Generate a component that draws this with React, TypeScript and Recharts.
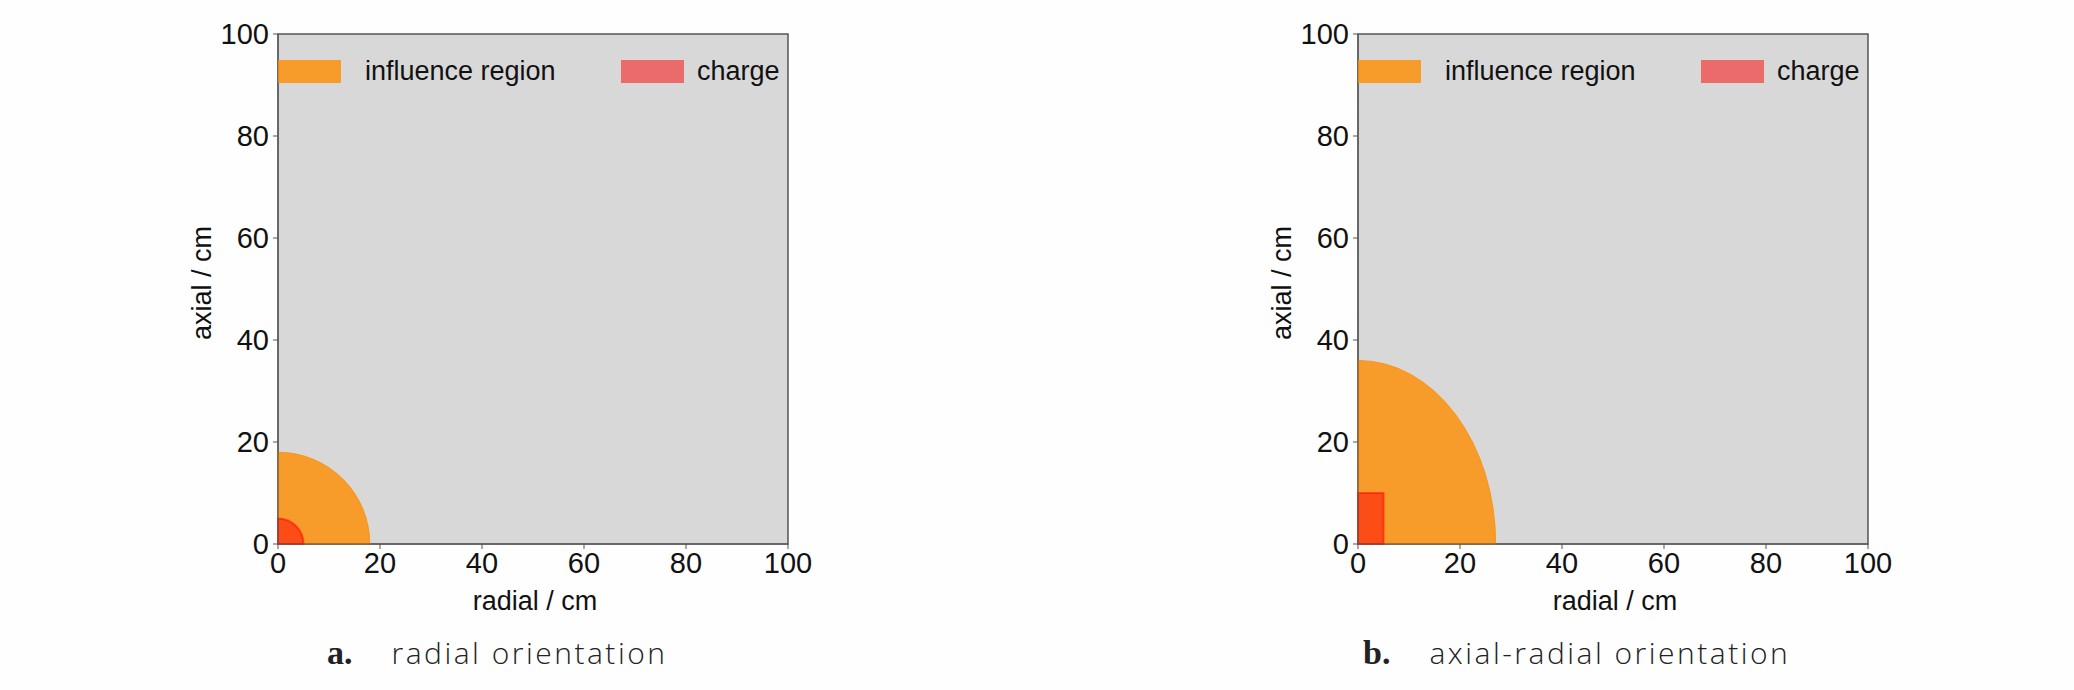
import React from 'react';
import { ComposedChart, XAxis, YAxis, ReferenceArea, Legend } from 'recharts';

// panel a: radial orientation, panel b: axial-radial orientation
const panelKeys = ['a', 'b'];
const captions = ['radial orientation', 'axial-radial orientation'];
const influenceRadial = [18, 27];
const influenceAxial = [18, 36];
const chargeRadial = [5, 5];
const chargeAxial = [5, 10];
const chargeShape = ['quarter', 'rect'];
const radialTicks = [0, 20, 40, 60, 80, 100];
const axialTicks = [0, 20, 40, 60, 80, 100];
const legendLabels = ['influence region', 'charge'];
const legendColors = ['#ff8c00', '#ff0000'];
const legendOpacity = [0.8, 0.5];

const FONT = '"Liberation Sans", Arial, sans-serif';
const AXIS = '#555';

// quarter ellipse anchored at the bottom-left corner of the area rect
const QuarterEllipse = (props: any) => {
  const { x, y, width, height, fill, fillOpacity, stroke, strokeOpacity, strokeWidth } = props;
  const d = `M${x},${y + height} L${x},${y} A${width},${height} 0 0 1 ${x + width},${y + height} Z`;
  return (
    <path
      d={d}
      fill={fill}
      fillOpacity={fillOpacity}
      stroke={stroke}
      strokeOpacity={strokeOpacity}
      strokeWidth={strokeWidth}
    />
  );
};

const LegendBox = () => (
  <div
    style={{
      display: 'flex',
      alignItems: 'center',
      fontFamily: FONT,
      fontSize: 27,
      lineHeight: '34px',
      color: '#111',
      width: 508,
      height: 36,
      overflow: 'hidden',
    }}
  >
    {legendLabels.map((label, i) => (
      <div
        key={label}
        style={{ display: 'flex', alignItems: 'center', flexShrink: 0, width: i === 0 ? 343 : 'auto' }}
      >
        <div
          style={{
            width: 61,
            height: 21,
            background: legendColors[i],
            opacity: legendOpacity[i],
            border: `1px solid ${legendColors[i]}`,
          }}
        />
        <span style={{ marginLeft: i === 0 ? 24 : 13, whiteSpace: 'nowrap' }}>{label}</span>
      </div>
    ))}
  </div>
);

function Panel({ idx, width }: { idx: number; width: number }) {
  return (
    <ComposedChart
      width={width}
      height={690}
      data={[]}
      margin={{ top: 34, right: width - 178 - 100 - 510, bottom: 56, left: 178 }}
    >
      <XAxis
        type="number"
        dataKey="r"
        domain={[0, 100]}
        ticks={radialTicks}
        allowDataOverflow
        height={90}
        stroke={AXIS}
        tickSize={5}
        tickMargin={3}
        tick={{ fontSize: 29, fontFamily: FONT, fill: '#111' }}
        label={(p: any) => {
          const vb = p.viewBox;
          return (
            <text x={vb.x + vb.width / 2 + 2} y={vb.y + 66} textAnchor="middle" fontSize={27} fontFamily={FONT} fill="#111">
              radial / cm
            </text>
          );
        }}
      />
      <YAxis
        type="number"
        dataKey="a"
        domain={[0, 100]}
        ticks={axialTicks}
        allowDataOverflow
        width={100}
        stroke={AXIS}
        tickSize={5}
        tickMargin={4}
        tick={{ fontSize: 29, fontFamily: FONT, fill: '#111' }}
        label={(p: any) => {
          const vb = p.viewBox;
          const cx = vb.x + 24;
          const cy = vb.y + vb.height / 2 - 6;
          return (
            <text
              x={cx}
              y={cy}
              transform={`rotate(-90 ${cx} ${cy})`}
              textAnchor="middle"
              dominantBaseline="central"
              fontSize={27}
              fontFamily={FONT}
              fill="#111"
            >
              axial / cm
            </text>
          );
        }}
      />
      <ReferenceArea x1={0} x2={100} y1={0} y2={100} fill="#d8d8d8" fillOpacity={1} stroke={AXIS} strokeWidth={1.5} />
      <ReferenceArea
        x1={0}
        x2={influenceRadial[idx]}
        y1={0}
        y2={influenceAxial[idx]}
        fill="#ff8c00"
        fillOpacity={0.8}
        stroke="#ff8c00"
        strokeOpacity={0.8}
        strokeWidth={1}
        shape={QuarterEllipse}
      />
      {chargeShape[idx] === 'quarter' ? (
        <ReferenceArea
          x1={0}
          x2={chargeRadial[idx]}
          y1={0}
          y2={chargeAxial[idx]}
          fill="#ff0000"
          fillOpacity={0.5}
          stroke="#ff0000"
          strokeOpacity={0.5}
          strokeWidth={2}
          shape={QuarterEllipse}
        />
      ) : (
        <ReferenceArea
          x1={0}
          x2={chargeRadial[idx]}
          y1={0}
          y2={chargeAxial[idx]}
          fill="#ff0000"
          fillOpacity={0.5}
          stroke="#ff0000"
          strokeOpacity={0.5}
          strokeWidth={2}
        />
      )}
      <Legend
        layout="horizontal"
        verticalAlign="middle"
        align="center"
        content={() => <LegendBox />}
        wrapperStyle={{ position: 'absolute', left: 278, top: 53, width: 508, height: 36 }}
      />
    </ComposedChart>
  );
}

const panelLeft = [0, 1080];
const panelWidth = [1000, 994];
const captionLeft = [327, 1363];

export default function App() {
  return (
    <div style={{ position: 'absolute', left: 0, top: 0, width: 2074, height: 690, background: '#fefefe', overflow: 'hidden' }}>
      {panelKeys.map((key, i) => (
        <div key={key} style={{ position: 'absolute', left: panelLeft[i], top: 0 }}>
          <Panel idx={i} width={panelWidth[i]} />
        </div>
      ))}
      {panelKeys.map((key, i) => (
        <div
          key={'cap' + key}
          style={{
            position: 'absolute',
            left: captionLeft[i],
            top: 636,
            lineHeight: '34px',
            whiteSpace: 'nowrap',
            color: '#222',
          }}
        >
          <span style={{ fontFamily: '"Liberation Serif", serif', fontWeight: 'bold', fontSize: 34 }}>{key}.</span>
          <span style={{ fontFamily: '"Open Sans", sans-serif', fontWeight: 300, fontSize: 30, letterSpacing: 2.5, marginLeft: 39 }}>
            {captions[i]}
          </span>
        </div>
      ))}
    </div>
  );
}
